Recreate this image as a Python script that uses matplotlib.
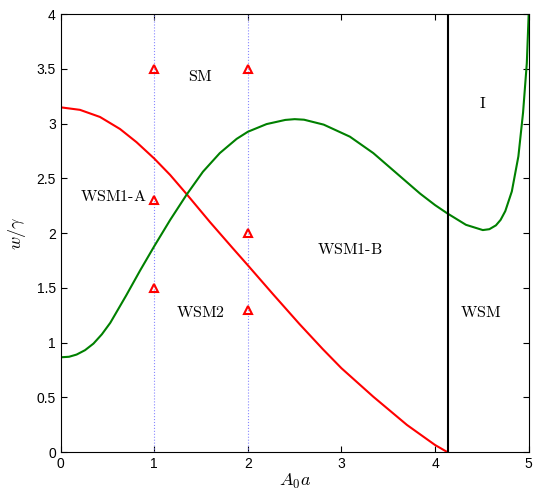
import matplotlib
matplotlib.use("Agg")
import matplotlib.pyplot as plt

plt.rcParams['mathtext.fontset'] = 'cm'
plt.rcParams['font.family'] = ['Liberation Sans', 'DejaVu Sans']

# boundary curves
red_x = [0, 0.206, 0.42, 0.634, 0.81, 1.0, 1.17, 1.345, 1.595, 1.845, 2.0, 2.27,
         2.55, 2.8, 3.0, 3.34, 3.7, 4.0, 4.13]
red_y = [3.148, 3.125, 3.06, 2.95, 2.83, 2.68, 2.53, 2.356, 2.10, 1.855, 1.705, 1.44,
         1.17, 0.94, 0.765, 0.505, 0.247, 0.064, 0.0]

green_x = [0, 0.09, 0.17, 0.26, 0.35, 0.44, 0.53, 0.7, 0.85, 1.0, 1.17, 1.345, 1.52, 1.70,
           1.88, 2.0, 2.20, 2.4, 2.5, 2.6, 2.81, 3.09, 3.34, 3.59, 3.84, 4.0, 4.13, 4.33,
           4.51, 4.58, 4.65, 4.7, 4.75, 4.82, 4.89, 4.94, 4.98, 5.0]
green_y = [0.865, 0.87, 0.89, 0.93, 0.99, 1.075, 1.18, 1.43, 1.66, 1.88, 2.12, 2.35, 2.56, 2.73,
           2.86, 2.925, 2.995, 3.033, 3.04, 3.035, 2.99, 2.88, 2.73, 2.545, 2.36, 2.255, 2.18, 2.075,
           2.027, 2.035, 2.07, 2.12, 2.2, 2.38, 2.7, 3.1, 3.55, 4.0]

critical_x = 4.14

# sample points (triangles)
pts_x = [1, 1, 1, 2, 2, 2]
pts_y = [3.5, 2.3, 1.5, 3.5, 2.0, 1.3]
guide_x = [1, 2]

region_names = ['SM', 'WSM1-A', 'WSM1-B', 'WSM2', 'WSM', 'I']
region_x = [1.49, 0.56, 3.09, 1.49, 4.49, 4.51]
region_y = [3.43, 2.33, 1.85, 1.27, 1.27, 3.18]

fig = plt.figure(figsize=(5.37, 4.91), dpi=100)
ax = fig.add_axes([0.113, 0.0794, 0.8715, 0.892])

for gx in guide_x:
    ax.axvline(gx, color='#8888ff', linestyle=':', linewidth=0.8)

ax.plot(red_x, red_y, color='red', linewidth=1.5)
ax.plot(green_x, green_y, color='green', linewidth=1.5)
ax.axvline(critical_x, color='black', linewidth=1.5)
ax.plot(pts_x, pts_y, linestyle='none', marker='^', markersize=5.5,
        markerfacecolor='none', markeredgecolor='red', markeredgewidth=1.5)

for name, tx, ty in zip(region_names, region_x, region_y):
    ax.text(tx, ty, r'$\mathrm{' + name.replace('-', '\\text{-}') + '}$',
            ha='center', va='center', fontsize=11.5)

ax.set_xlim(0, 5)
ax.set_ylim(0, 4)
ax.set_xticks([0, 1, 2, 3, 4, 5])
ax.set_yticks([0, 0.5, 1, 1.5, 2, 2.5, 3, 3.5, 4])
ax.set_yticklabels(['0', '0.5', '1', '1.5', '2', '2.5', '3', '3.5', '4'])
ax.tick_params(direction='in', top=True, right=True, labelsize=10, length=4)
ax.set_xlabel(r'$A_0a$', fontsize=13, labelpad=1)
ax.set_ylabel(r'$w/\gamma$', fontsize=13, labelpad=6)

fig.savefig('out.png', dpi=100)
